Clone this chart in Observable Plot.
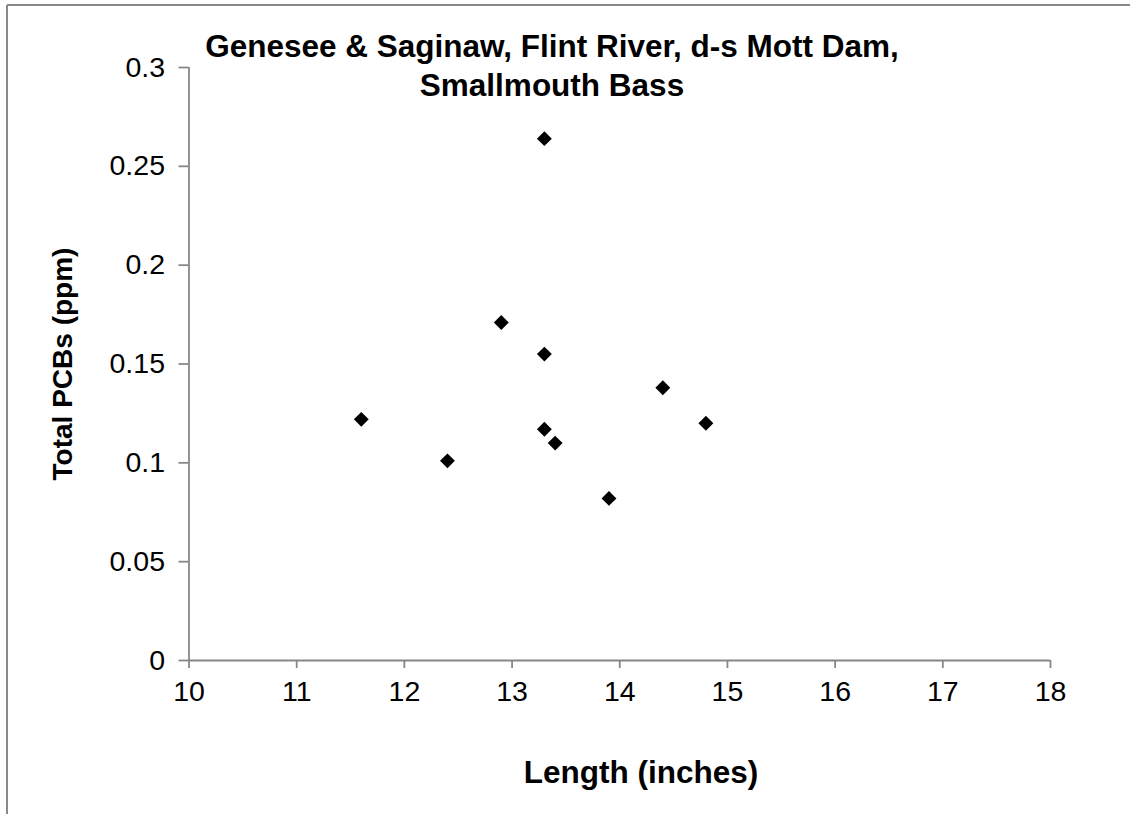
<!DOCTYPE html>
<html>
<head>
<meta charset="utf-8">
<script src="https://cdn.jsdelivr.net/npm/d3@7"></script>
<script src="https://cdn.jsdelivr.net/npm/@observablehq/plot@0.6"></script>
<style>
  html, body { margin: 0; padding: 0; background: #fff; }
  #chart { width: 1130px; height: 814px; }
  svg { font-family: "Liberation Sans", Arial, sans-serif; }
</style>
</head>
<body>
<div id="chart"></div>
<script>
const titleLines = ["Genesee & Saginaw, Flint River, d-s Mott Dam,", "Smallmouth Bass"];
const xLabel = "Length (inches)";
const yLabel = "Total PCBs (ppm)";

const lengths = [13.3, 12.9, 13.3, 11.6, 13.3, 13.4, 12.4, 14.4, 14.8, 13.9];
const pcbs    = [0.264, 0.171, 0.155, 0.122, 0.117, 0.110, 0.101, 0.138, 0.120, 0.082];

const xTicks = [10, 11, 12, 13, 14, 15, 16, 17, 18];
const yTicks = [0, 0.05, 0.1, 0.15, 0.2, 0.25, 0.3];
const yTickLabels = ["0", "0.05", "0.1", "0.15", "0.2", "0.25", "0.3"];

const data = lengths.map((x, i) => ({x, y: pcbs[i]}));
const axisColor = "#878787";

const plot = Plot.plot({
  width: 1130,
  height: 814,
  marginLeft: 188.5,
  marginRight: 80,
  marginTop: 67,
  marginBottom: 154,
  style: {fontFamily: "Liberation Sans, Arial, sans-serif", background: "#fff"},
  x: {domain: [10, 18], label: null},
  y: {domain: [0, 0.3], label: null},
  marks: [
    Plot.ruleX([10], {y1: 0, y2: 0.3, stroke: axisColor, strokeWidth: 1.8}),
    Plot.ruleY([0], {x1: 10, x2: 18, stroke: axisColor, strokeWidth: 1.8}),
    Plot.axisY({ticks: yTicks, tickFormat: (d, i) => yTickLabels[yTicks.indexOf(d)], tickSize: 10, tickPadding: 14, stroke: axisColor, strokeWidth: 1.8, strokeOpacity: 1, fontSize: 28.5, fill: "#000", label: null}),
    Plot.axisX({ticks: xTicks, tickFormat: d => String(d), tickSize: 8, tickPadding: 12, stroke: axisColor, strokeWidth: 1.8, strokeOpacity: 1, fontSize: 28.5, fill: "#000", label: null}),
    Plot.dot(data, {x: "x", y: "y", symbol: "diamond2", r: 6.7, fill: "#000", stroke: "none"})
  ]
});

const svg = d3.select(plot);
// outer chart border (top and left)
svg.append("line").attr("x1", 7).attr("x2", 1130).attr("y1", 5).attr("y2", 5).attr("stroke", "#898989").attr("stroke-width", 2);
svg.append("line").attr("x1", 7).attr("x2", 7).attr("y1", 5).attr("y2", 814).attr("stroke", "#898989").attr("stroke-width", 2);

svg.append("text").attr("x", 552).attr("y", 57).attr("text-anchor", "middle")
  .attr("font-size", 31.5).attr("font-weight", "bold").attr("fill", "#000").text(titleLines[0]);
svg.append("text").attr("x", 552).attr("y", 96).attr("text-anchor", "middle")
  .attr("font-size", 31.5).attr("font-weight", "bold").attr("fill", "#000").text(titleLines[1]);

svg.append("text").attr("x", 641).attr("y", 783).attr("text-anchor", "middle")
  .attr("font-size", 31.5).attr("font-weight", "bold").attr("fill", "#000").text(xLabel);
svg.append("text").attr("transform", "translate(72,364) rotate(-90)").attr("text-anchor", "middle")
  .attr("font-size", 28).attr("font-weight", "bold").attr("fill", "#000").text(yLabel);

document.getElementById("chart").appendChild(plot);
</script>
</body>
</html>
